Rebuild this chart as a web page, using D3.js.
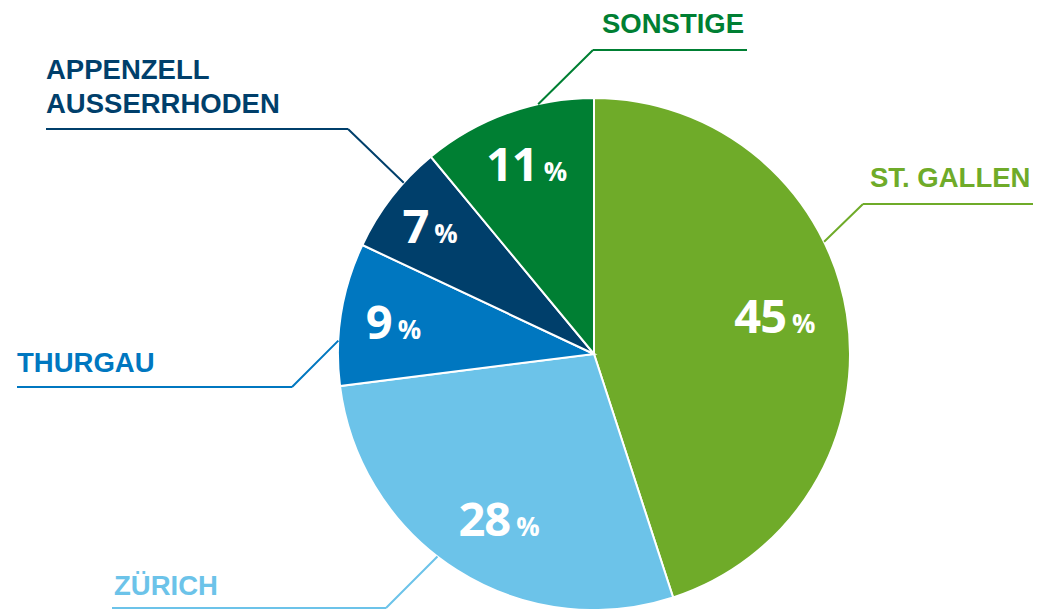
<!DOCTYPE html>
<html>
<head>
<meta charset="utf-8">
<script src="https://cdn.jsdelivr.net/npm/d3@7"></script>
<style>
  html, body { margin: 0; padding: 0; background: #fff; }
  svg { display: block; }
</style>
</head>
<body>
<svg id="drawing_region"></svg>
<script>
// data
const regions = ['ST. GALLEN', 'ZÜRICH', 'THURGAU', 'APPENZELL\nAUSSERRHODEN', 'SONSTIGE'];
const shares  = [45, 28, 9, 7, 11];
const colors  = ['#6fab29', '#6cc3e9', '#0077c0', '#003f6b', '#007f33'];

// layout for the percent labels: [angle in deg, radius]
const pctPos = [[78, 185], [210, 190], [279, 203], [308, 208], [340.5, 202]];

// layout for the outside labels (text start, first baseline, line y, line x range, angle where the leader hits the pie)
const callouts = [
  { x: 870, y: 187, ly: 204, x0: 863, x1: 1033, elbow: 863, ang: 64 },
  { x: 114, y: 595, ly: 608, x0: 112, x1: 386,  elbow: 386, ang: 217.7 },
  { x: 17,  y: 372, ly: 387, x0: 17,  x1: 292,  elbow: 292, ang: 273 },
  { x: 46,  y: 79,  ly: 129, x0: 46,  x1: 348,  elbow: 348, ang: 312 },
  { x: 602, y: 33,  ly: 50,  x0: 593, x1: 747,  elbow: 593, ang: 347.4 }
];

const config = { width: 1053, height: 609, cx: 594, cy: 354, radius: 256 };

const data = regions.map((r, i) => ({ label: r, value: shares[i], color: colors[i] }));

const svg = d3.select('#drawing_region')
    .attr('width', config.width)
    .attr('height', config.height);

const chart = svg.append('g')
    .attr('transform', `translate(${config.cx}, ${config.cy})`);

const pie = d3.pie().sort(null).value(d => d.value);
const arc = d3.arc().innerRadius(0).outerRadius(config.radius);

chart.selectAll('path.slice')
    .data(pie(data))
    .enter()
    .append('path')
    .attr('class', 'slice')
    .attr('d', arc)
    .attr('fill', d => d.data.color)
    .attr('stroke', 'white')
    .style('stroke-width', '2px');

// percent labels
const pct = chart.selectAll('text.pct')
    .data(pie(data))
    .enter()
    .append('text')
    .attr('class', 'pct')
    .attr('transform', (d, i) => {
        const p = d3.pointRadial(pctPos[i][0] * Math.PI / 180, pctPos[i][1]);
        return `translate(${p[0]}, ${p[1]})`;
    })
    .attr('text-anchor', 'middle')
    .attr('dy', '17')
    .style('font-family', '"Open Sans", sans-serif')
    .style('font-weight', 700)
    .style('fill', 'white');

pct.append('tspan')
    .style('font-size', '47px')
    .style('letter-spacing', '-1px')
    .text(d => d.data.value);
pct.append('tspan')
    .attr('dx', 6)
    .style('font-size', '26px')
    .text('%');

// outside labels with leader lines
const outside = svg.append('g');
data.forEach((d, i) => {
    const c = callouts[i];
    const p = d3.pointRadial(c.ang * Math.PI / 180, config.radius);
    const px = config.cx + p[0], py = config.cy + p[1];

    outside.append('path')
        .attr('d', `M${c.x0},${c.ly}L${c.x1},${c.ly}M${c.elbow},${c.ly}L${px},${py}`)
        .attr('fill', 'none')
        .attr('stroke', d.color)
        .attr('stroke-width', 2);

    const lines = d.label.split('\n');
    const t = outside.append('text')
        .attr('x', c.x)
        .attr('y', c.y)
        .style('font-family', '"Liberation Sans", Arial, sans-serif')
        .style('font-weight', 700)
        .style('font-size', '27.5px')
        .style('fill', d.color);
    lines.forEach((l, j) => {
        t.append('tspan')
            .attr('x', c.x)
            .attr('dy', j === 0 ? 0 : 34)
            .text(l);
    });
});
</script>
</body>
</html>
